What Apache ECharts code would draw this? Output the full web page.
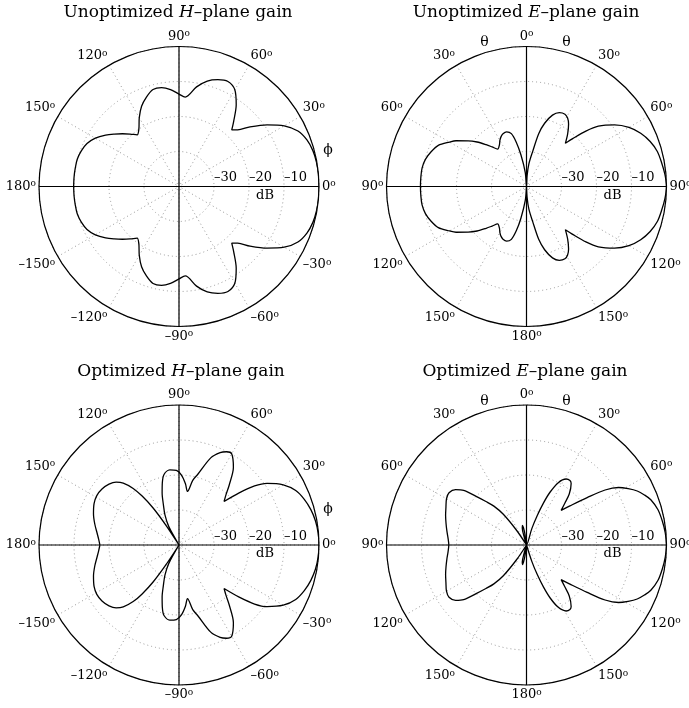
<!DOCTYPE html>
<html>
<head>
<meta charset="utf-8">
<title>Gain patterns</title>
<script src="https://cdn.jsdelivr.net/npm/echarts@6/dist/echarts.min.js"></script>
<style>
  html, body { margin: 0; padding: 0; background: #fff; }
  #chart { width: 689px; height: 708px; }
</style>
</head>
<body>
<div id="chart"></div>
<script>
// angle in degrees, gain in dB (0 dB on the outer ring, -40 dB at the centre)
const hUnoptAngles = [-180, -175, -170, -165, -160, -155, -150, -145, -141, -137, -133, -129, -125, -120, -115, -110, -105, -100, -95, -90, -86, -80, -75, -70, -65, -60, -55, -50, -47, -44, -40, -35, -30, -25, -20, -15, -10, -5,
  0, 5, 10, 15, 20, 25, 30, 35, 40, 44, 47, 50, 55, 60, 65, 70, 75, 80, 86, 90, 95, 100, 105, 110, 115, 120, 125, 129, 133, 137, 141, 145, 150, 155, 160, 165, 170, 175, 180];
const hUnoptGain = [-9.9, -9.9, -9.9, -9.9, -10.3, -11.0, -12.4, -14.4, -16.2, -17.9, -19.5, -21.0, -20.0, -17.3, -14.7, -12.8, -11.3, -11.3, -12.2, -13.6, -14.4, -11.1, -8.8, -7.5, -6.9, -8.1, -11.5, -15.7, -17.9, -16.7, -13.5, -9.3, -5.3, -2.5, -1.1, -0.4, -0.1, 0,
  0, 0, -0.1, -0.4, -1.1, -2.5, -5.3, -9.3, -13.5, -16.7, -17.9, -15.7, -11.5, -8.1, -6.9, -7.5, -8.8, -11.1, -14.4, -13.6, -12.2, -11.3, -11.3, -12.8, -14.7, -17.3, -20.0, -21.0, -19.5, -17.9, -16.2, -14.4, -12.4, -11.0, -10.3, -9.9, -9.9, -9.9, -9.9];

const eUnoptAngles = [-180, -175, -170, -167, -164, -160, -156, -153, -150, -147, -142.4, -139, -136, -132, -128, -123, -120, -115, -110, -105, -100, -95, -90, -85, -80, -75, -70, -65, -60, -57, -52, -48, -44, -41, -37.6, -33, -30, -27, -24, -20, -16, -13, -10, -5,
  0, 3, 6, 10, 13, 16, 20, 24, 28, 31, 34, 38, 42, 44, 47, 50, 55, 60, 65, 70, 75, 80, 85, 90, 95, 100, 105, 110, 115, 120, 125, 130, 133, 136, 138, 142, 146, 149, 152, 156, 160, 164, 167, 170, 174, 177, 180];
const eUnoptGain = [-40, -36, -30.8, -27, -24.3, -23.4, -23.5, -24, -24.8, -25.8, -26.5, -25, -23.4, -21, -18.8, -16, -14.6, -12.2, -11.0, -10.1, -9.7, -9.7, -9.7, -9.7, -9.7, -10.1, -11.0, -12.2, -14.6, -16, -18.8, -21, -23.4, -25, -26.5, -25.8, -24.8, -24, -23.5, -23.4, -24.3, -27, -30.8, -36,
  -40, -37, -33.5, -29.8, -24.5, -21.2, -18.3, -16.9, -16.6, -17.2, -18.5, -20.9, -23.4, -21.0, -16.8, -13.2, -9.3, -6.2, -4.0, -2.4, -1.3, -0.8, -0.3, 0, -0.3, -0.8, -1.3, -2.4, -4.0, -6.2, -9.3, -13.2, -16.8, -21.0, -23.4, -20.9, -18.5, -17.2, -16.6, -16.9, -18.3, -21.2, -24.5, -29.8, -33.5, -37, -40];

const hOptAngles = [-180, -176, -172, -166, -160, -154, -149, -144, -139, -135, -132, -129, -127, -125, -123.5, -122, -119, -115, -111, -108, -105, -102, -97, -92, -88, -84, -81, -78, -75, -70, -66, -63, -60, -55, -50, -47, -44, -41, -38, -35, -30, -25, -20, -15, -10, -5,
  0, 5, 10, 15, 20, 25, 30, 35, 38, 41, 44, 47, 50, 55, 60, 63, 66, 70, 75, 78, 81, 84, 88, 92, 97, 102, 105, 108, 111, 115, 119, 122, 123.5, 125, 127, 129, 132, 135, 139, 144, 149, 154, 160, 166, 172, 176, 180];
const hOptGain = [-17.4, -17.0, -16.4, -15.2, -14.0, -13.0, -12.6, -12.8, -13.5, -14.6, -16.2, -19.2, -22.5, -27, -33, -40, -34, -30.5, -27.5, -24.4, -21.6, -19.4, -18.4, -18.7, -20.0, -22.4, -24.5, -21.1, -19.0, -13.5, -11.1, -10.1, -9.9, -12.9, -17.7, -20.3, -22.1, -17.4, -12.6, -9.3, -5.6, -3.2, -1.9, -1.0, -0.4, -0.1,
  0, -0.1, -0.4, -1.0, -1.9, -3.2, -5.6, -9.3, -12.6, -17.4, -22.1, -20.3, -17.7, -12.9, -9.9, -10.1, -11.1, -13.5, -19.0, -21.1, -24.5, -22.4, -20.0, -18.7, -18.4, -19.4, -21.6, -24.4, -27.5, -30.5, -34, -40, -33, -27, -22.5, -19.2, -16.2, -14.6, -13.5, -12.8, -12.6, -13.0, -14.0, -15.2, -16.4, -17.0, -17.4];

const eOptAngles = [-180, -175, -172, -170, -168, -166, -164, -161, -150, -146, -143, -140, -137, -134, -131, -128, -124, -120, -115, -110, -105, -100, -95, -90, -85, -80, -75, -70, -65, -60, -56, -52, -49, -46, -43, -40, -37, -34, -30, -19, -16, -14, -12, -10, -8, -5,
  0, 15, 18, 20, 22, 24, 27, 31, 34, 36, 40, 42.5, 45, 48, 52, 55, 58, 61, 64, 67, 70, 75, 80, 85, 90, 95, 100, 105, 110, 113, 116, 119, 122, 125, 128, 132, 135, 137.5, 140, 144, 146, 149, 153, 156, 158, 160, 162, 165, 180];
const eOptGain = [-40, -40, -37, -35, -34.3, -35, -37.5, -40, -40, -35, -29, -25.5, -23, -20, -16.2, -14.3, -13.3, -13.6, -14.6, -15.4, -16.2, -16.9, -17.5, -17.8, -17.5, -16.9, -16.2, -15.4, -14.6, -13.6, -13.3, -14.3, -16.2, -20, -23, -25.5, -29, -35, -40, -40, -37.5, -35, -34.3, -35, -37, -40,
  -40, -40, -35, -31, -27, -23.5, -20, -18, -17.8, -18.3, -21, -23.8, -26, -23.3, -18, -12.6, -9, -6.8, -4.8, -3.4, -2.2, -1.1, -0.6, -0.2, 0, -0.2, -0.6, -1.1, -2.2, -3.4, -4.8, -6.8, -9, -12.6, -18, -23.3, -26, -23.8, -21, -18.3, -17.8, -18, -20, -23.5, -27, -31, -35, -40, -40];

const radiusTicks = [-30, -20, -10];

const FONT = 'DejaVu Serif';
const MINUS = '\u2013';
const plots = [
  { title: ['Unoptimized ', 'H', '\u2013plane gain'], titleX: 178, titleY: 4, center: [179, 186.5], plane: 'H', angles: hUnoptAngles, gain: hUnoptGain },
  { title: ['Unoptimized ', 'E', '\u2013plane gain'], titleX: 526, titleY: 4, center: [526.5, 186.5], plane: 'E', angles: eUnoptAngles, gain: eUnoptGain },
  { title: ['Optimized ', 'H', '\u2013plane gain'], titleX: 181, titleY: 363, center: [179, 545], plane: 'H', angles: hOptAngles, gain: hOptGain },
  { title: ['Optimized ', 'E', '\u2013plane gain'], titleX: 525, titleY: 363, center: [526.5, 545], plane: 'E', angles: eOptAngles, gain: eOptGain }
];
const R = 140;

const degRich = {
  n: { fontFamily: FONT, fontSize: 13, color: '#000', lineHeight: 14 },
  s: { fontFamily: FONT, fontSize: 9, color: '#000', verticalAlign: 'top', lineHeight: 14, padding: [0, 0, 5, 0] }
};

function hLabel(v) {
  let s = Math.abs(v) === 180 ? '180' : (v < 0 ? MINUS + (-v) : '' + v);
  return '{n|' + s + '}{s|o}';
}
function eLabel(v) {
  return '{n|' + Math.abs(v) + '}{s|o}';
}

const option = {
  backgroundColor: '#fff',
  animation: false,
  title: [],
  polar: [],
  angleAxis: [],
  radiusAxis: [],
  series: [],
  graphic: []
};

plots.forEach((p, i) => {
  const main = i * 2, over = i * 2 + 1;
  const isH = p.plane === 'H';
  option.title.push({
    text: '{n|' + p.title[0] + '}{i|' + p.title[1] + '}{n|' + p.title[2] + '}',
    left: p.titleX, top: p.titleY, textAlign: 'center', padding: 0,
    textStyle: {
      fontWeight: 'normal',
      rich: {
        n: { fontFamily: FONT, fontSize: 17, fontWeight: 'normal', color: '#000' },
        i: { fontFamily: FONT, fontSize: 17, fontWeight: 'normal', fontStyle: 'italic', color: '#000' }
      }
    }
  });
  option.polar.push({ center: p.center, radius: R });
  option.polar.push({ center: p.center, radius: R });

  option.angleAxis.push({
    polarIndex: main, type: 'value', min: -180, max: 180, interval: 30,
    startAngle: isH ? 180 : 270, clockwise: !isH,
    axisLine: { lineStyle: { color: '#000', width: 1.2 } },
    axisTick: { show: false },
    axisLabel: { margin: 3, formatter: isH ? hLabel : eLabel, rich: degRich },
    splitLine: { lineStyle: { color: '#999', width: 1, type: [1, 3] } }
  });
  option.radiusAxis.push({
    polarIndex: main, type: 'value', min: -40, max: 0, interval: 10,
    axisLine: { show: false }, axisTick: { show: false }, axisLabel: { show: false },
    splitLine: { lineStyle: { color: '#999', width: 1, type: [1, 3] } }
  });

  // overlay: solid cross through the centre and the dB labels along the right radius
  option.angleAxis.push({
    polarIndex: over, type: 'value', min: 0, max: 360, interval: 90, startAngle: 0,
    axisLine: { show: false }, axisTick: { show: false }, axisLabel: { show: false },
    splitLine: { lineStyle: { color: '#000', width: 1.2 } }
  });
  option.radiusAxis.push({
    polarIndex: over, type: 'value', min: -40, max: 0, interval: 10,
    axisLine: { show: false }, axisTick: { show: false }, splitLine: { show: false },
    axisLabel: {
      align: 'left', margin: 2, fontFamily: FONT, fontSize: 13, color: '#000',
      formatter: v => radiusTicks.includes(v) ? MINUS + (-v) : ''
    }
  });

  option.series.push({
    type: 'line', coordinateSystem: 'polar', polarIndex: main,
    data: p.angles.map((a, k) => [p.gain[k], a]),
    showSymbol: false, smooth: 0.3, silent: true, clip: false,
    lineStyle: { color: '#000', width: 1.3 }
  });

  const [cx, cy] = p.center;
  const txt = (x, y, t, size) => ({
    type: 'text', x: x, y: y, silent: true,
    style: { text: t, fontFamily: FONT, fontSize: size, fill: '#000', align: 'center', verticalAlign: 'middle' }
  });
  option.graphic.push(txt(cx + 86, cy + 9, 'dB', 13));
  if (isH) {
    option.graphic.push(txt(cx + 149, cy - 36, '\u03d5', 14));
  } else {
    option.graphic.push(txt(cx - 42, cy - 144, '\u03b8', 14));
    option.graphic.push(txt(cx + 40, cy - 144, '\u03b8', 14));
  }
});

const chart = echarts.init(document.getElementById('chart'));
chart.setOption(option);
</script>
</body>
</html>
